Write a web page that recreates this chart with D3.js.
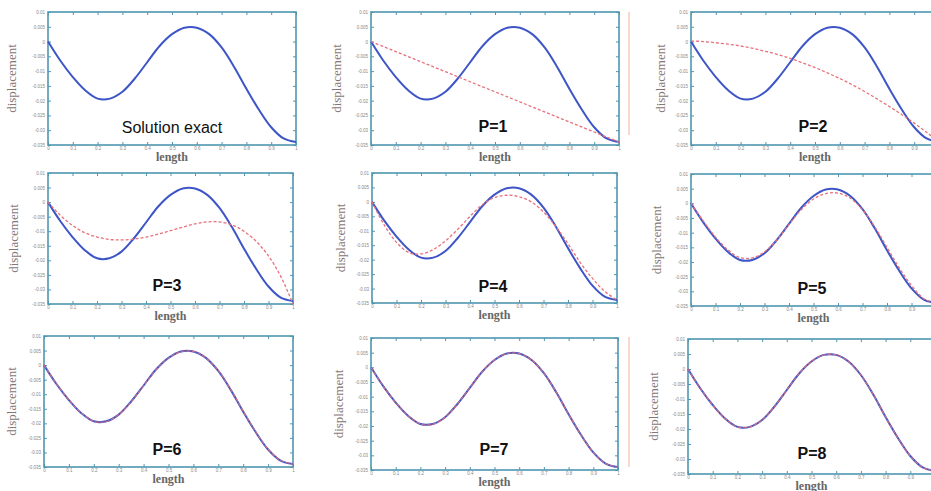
<!DOCTYPE html>
<html><head><meta charset="utf-8">
<script src="https://cdn.jsdelivr.net/npm/d3@7"></script>
<style>body{margin:0;background:#fff}svg{display:block}</style>
</head><body><svg id="c" width="931" height="491"></svg>
<script>
// ---- data (values in units of 0.001) ----
const xs = [0,0.05,0.1,0.15,0.2,0.25,0.3,0.35,0.4,0.45,0.5,0.55,0.6,0.65,0.7,0.75,0.8,0.85,0.9,0.95,1];
const exact = [0,-6.5,-12,-16.5,-19.3,-19.3,-17,-12.5,-7,-1.5,2.5,4.7,4.7,2.5,-2,-8.5,-16,-23,-29,-32.8,-34];
const p1 = [0,-1.7,-3.4,-5.1,-6.8,-8.5,-10.2,-11.9,-13.6,-15.3,-17,-18.7,-20.4,-22.1,-23.8,-25.5,-27.2,-28.9,-30.6,-32.3,-34];
const p2 = [0.2,0,-0.4,-0.9,-1.5,-2.3,-3.3,-4.4,-5.7,-7.2,-8.8,-10.6,-12.5,-14.6,-16.9,-19.4,-22,-24.7,-27.6,-30.7,-34];
const p3 = [0,-4.5,-8,-10.5,-12,-12.8,-13,-12.7,-12,-11,-9.8,-8.6,-7.5,-6.8,-6.8,-7.8,-10,-13.5,-18.5,-25.5,-35];
const p4 = [0,-8,-14,-17.5,-18,-16.5,-13.5,-9.5,-5,-1,1.5,2.3,1.8,0,-3.5,-8.5,-14.5,-21,-26.5,-31,-34];
const p5 = [0,-6,-11.5,-15.8,-18.5,-18.6,-16.5,-12.5,-7.2,-2.2,1.5,3.3,3.5,1.8,-2.2,-8,-15,-22,-28,-32.5,-34.2];
const p6 = [0,-6.4,-11.9,-16.4,-19.3,-19.4,-17,-12.6,-7.1,-1.6,2.4,4.6,4.7,2.5,-1.9,-8.4,-15.8,-22.9,-28.9,-32.7,-34];
const p7 = [0,-6.5,-12,-16.5,-19.3,-19.4,-17,-12.5,-7,-1.5,2.5,4.7,4.7,2.5,-2,-8.5,-16,-23,-29,-32.8,-34];
const p8 = [0,-6.5,-12,-16.5,-19.3,-19.3,-17,-12.5,-7,-1.5,2.5,4.7,4.7,2.5,-2,-8.5,-16,-23,-29,-32.8,-34];
const approxSeries = [null,p1,p2,p3,p4,p5,p6,p7,p8];
const panelLabels = ["Solution exact","P=1","P=2","P=3","P=4","P=5","P=6","P=7","P=8"];
const yTicks = [0.01,0.005,0,-0.005,-0.01,-0.015,-0.02,-0.025,-0.03,-0.035];
const xTicks = [0,0.1,0.2,0.3,0.4,0.5,0.6,0.7,0.8,0.9,1];
const yTickLabels = ["0.01","0.005","0","-0.005","-0.01","-0.015","-0.02","-0.025","-0.03","-0.035"];
const xTickLabels = ["0","0.1","0.2","0.3","0.4","0.5","0.6","0.7","0.8","0.9","1"];

// ---- layout ----
const panels = [
  {l:48,r:296,t:12,b:145,yl:13,lx:172,ly:133},
  {l:371,r:619,t:12,b:145,yl:338,lx:493,ly:132},
  {l:691,r:939,t:12,b:145,yl:662,lx:813,ly:132},
  {l:48,r:293,t:173,b:304,yl:15,lx:167,ly:291},
  {l:372,r:617,t:173,b:303,yl:342,lx:493,ly:292},
  {l:691,r:936,t:174,b:306,yl:658,lx:812,ly:294},
  {l:44,r:293,t:336,b:467,yl:13,lx:167,ly:455},
  {l:371,r:618,t:338,b:470,yl:340,lx:494,ly:455},
  {l:688,r:935,t:339,b:474,yl:655,lx:812,ly:459}
];
const frameColor = "#4f97b0";
const svg = d3.select("#c");
svg.append("rect").attr("width",931).attr("height",491).attr("fill","#fff");

// faint separator lines seen in the reference
[[629,12,135],[629,337,467]].forEach(([x,y1,y2])=>{
  svg.append("line").attr("x1",x).attr("x2",x).attr("y1",y1).attr("y2",y2)
    .attr("stroke","#f0b0a0").attr("stroke-width",1);
});

panels.forEach((p,i)=>{
  const g = svg.append("g");
  const x = d3.scaleLinear().domain([0,1]).range([p.l,p.r]);
  const y = d3.scaleLinear().domain([-0.035,0.01]).range([p.b,p.t]);
  const axStyle = sel=>{
    sel.select(".domain").remove();
    sel.selectAll("line").attr("stroke",frameColor).attr("stroke-width",1);
    sel.selectAll("text").attr("fill","#888").style("font-size","4.5px").style("font-family","Liberation Sans, Arial");
  };
  g.append("g").attr("transform",`translate(0,${p.b})`)
    .call(d3.axisBottom(x).tickValues(xTicks).tickSize(-3).tickPadding(2).tickFormat((d,k)=>xTickLabels[k])).call(axStyle);
  g.append("g").attr("transform",`translate(0,${p.t})`)
    .call(d3.axisTop(x).tickValues(xTicks).tickSize(-3).tickFormat("")).call(axStyle);
  g.append("g").attr("transform",`translate(${p.l},0)`)
    .call(d3.axisLeft(y).tickValues(yTicks).tickSize(-3).tickPadding(3).tickFormat((d,k)=>yTickLabels[k])).call(axStyle);
  g.append("g").attr("transform",`translate(${p.r},0)`)
    .call(d3.axisRight(y).tickValues(yTicks).tickSize(-3).tickFormat("")).call(axStyle);
  g.append("rect").attr("x",p.l).attr("y",p.t).attr("width",p.r-p.l).attr("height",p.b-p.t)
    .attr("fill","none").attr("stroke",frameColor).attr("stroke-width",1.6);

  const line = d3.line().x((d,k)=>x(xs[k])).y(d=>y(d/1000)).curve(d3.curveCatmullRom.alpha(0.5));
  g.append("path").datum(exact).attr("d",line).attr("fill","none")
    .attr("stroke","#3d55c6").attr("stroke-width",2);
  if(approxSeries[i]){
    const heavy = i>=6;
    g.append("path").datum(approxSeries[i]).attr("d",line).attr("fill","none")
      .attr("stroke","#e8707a").attr("stroke-width",heavy?1.2:1.3)
      .attr("stroke-dasharray",heavy?"4,1.5":"3,2").attr("opacity",heavy?0.85:1);
  }
  // axis titles
  g.append("text").attr("x",(p.l+p.r)/2).attr("y",p.b+16).attr("text-anchor","middle")
    .style("font-family","Liberation Serif, Times New Roman, serif").style("font-size","12px")
    .style("font-weight","bold").attr("fill","#666").text("length");
  g.append("text").attr("transform",`translate(${p.yl},${(p.t+p.b)/2}) rotate(-90)`)
    .attr("text-anchor","middle").attr("dominant-baseline","middle")
    .style("font-family","Liberation Serif, Times New Roman, serif").style("font-size","13px")
    .attr("fill","#857676").text("displacement");
  g.append("text").attr("x",p.lx).attr("y",p.ly).attr("text-anchor","middle")
    .style("font-family","Liberation Sans, Arial, sans-serif").style("font-size","16px")
    .style("font-weight", i===0?"normal":"bold").attr("fill","#111").text(panelLabels[i]);
});
</script></body></html>
